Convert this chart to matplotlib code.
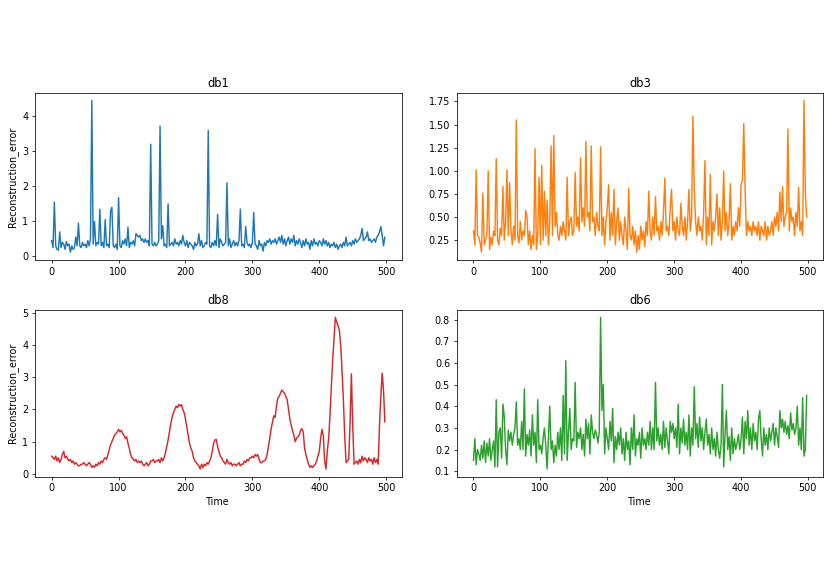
import matplotlib
matplotlib.use("Agg")
import matplotlib.pyplot as plt
import numpy as np

# reconstruction error per wavelet, sampled every 2 time steps
db1 = [
    0.45, 0.25, 1.55, 0.3, 0.2, 0.18, 0.7, 0.25, 0.4, 0.35,
    0.2, 0.42, 0.3, 0.35, 0.12, 0.3, 0.2, 0.25, 0.55, 0.3,
    0.95, 0.3, 0.25, 0.4, 0.3, 0.35, 0.25, 0.45, 0.3, 0.5,
    4.45, 0.35, 1.0, 0.3, 0.4, 0.35, 1.35, 0.3, 0.4, 0.25,
    1.05, 0.3, 0.35, 0.25, 1.3, 1.4, 0.3, 0.25, 0.35, 0.2,
    1.68, 0.3, 0.25, 0.45, 0.35, 0.5, 0.3, 0.83, 0.25, 0.4,
    0.35, 0.45, 0.3, 0.65, 0.6, 0.55, 0.6, 0.45, 0.5, 0.4,
    0.5, 0.4, 0.45, 0.3, 3.2, 0.35, 0.3, 0.4, 0.3, 0.35,
    0.45, 3.72, 0.5, 0.88, 0.3, 0.35, 0.25, 1.5, 0.3, 0.35,
    0.4, 0.3, 0.5, 0.35, 0.4, 0.3, 0.45, 0.35, 0.6, 0.4,
    0.3, 0.45, 0.25, 0.4, 0.35, 0.3, 0.2, 0.4, 0.3, 0.35,
    0.65, 0.3, 0.45, 0.25, 0.3, 0.4, 0.35, 3.6, 0.3, 0.25,
    0.4, 0.3, 0.45, 0.3, 1.2, 0.25, 0.5, 0.4, 0.3, 0.35,
    0.4, 2.1, 0.3, 0.5, 0.25, 0.35, 0.45, 0.3, 0.4, 0.3,
    0.45, 1.35, 0.3, 0.35, 0.25, 0.85, 0.4, 0.3, 0.35, 0.25,
    0.4, 1.25, 0.35, 0.3, 0.2, 0.45, 0.3, 0.35, 0.15, 0.4,
    0.3, 0.45, 0.4, 0.5, 0.35, 0.45, 0.4, 0.5, 0.35, 0.45,
    0.55, 0.4, 0.6, 0.35, 0.5, 0.3, 0.45, 0.55, 0.35, 0.5,
    0.4, 0.6, 0.3, 0.45, 0.35, 0.5, 0.4, 0.25, 0.45, 0.3,
    0.5, 0.35, 0.4, 0.2, 0.45, 0.3, 0.5, 0.35, 0.4, 0.3,
    0.45, 0.4, 0.3, 0.5, 0.35, 0.45, 0.3, 0.4, 0.25, 0.35,
    0.3, 0.4, 0.25, 0.35, 0.2, 0.3, 0.35, 0.25, 0.4, 0.3,
    0.55, 0.3, 0.35, 0.4, 0.3, 0.45, 0.35, 0.5, 0.4, 0.45,
    0.5, 0.6, 0.8, 0.45, 0.5, 0.55, 0.7, 0.45, 0.5, 0.4,
    0.45, 0.5, 0.4, 0.55, 0.6, 0.7, 0.85, 0.6, 0.3, 0.55,
]

db3 = [
    0.35, 0.2, 1.01, 0.3, 0.28, 0.22, 0.12, 0.76, 0.2, 0.25,
    0.3, 1.0, 0.15, 0.28, 0.2, 0.35, 0.3, 1.13, 0.25, 0.2,
    0.38, 0.3, 0.83, 0.25, 0.45, 1.01, 0.3, 0.87, 0.35, 0.2,
    0.4, 0.25, 1.55, 0.3, 0.22, 0.45, 0.25, 0.35, 0.3, 0.57,
    0.5, 0.2, 0.35, 0.15, 0.3, 0.2, 1.24, 0.15, 0.3, 0.93,
    0.2, 1.06, 0.25, 0.78, 0.3, 0.68, 0.2, 0.45, 1.27, 0.3,
    1.38, 0.4, 0.55, 0.3, 0.25, 0.4, 0.3, 0.45, 0.35, 0.25,
    0.93, 0.3, 0.45, 0.5, 0.3, 0.35, 0.98, 0.4, 0.5, 0.35,
    1.14, 0.45, 0.6, 0.4, 1.32, 0.5, 0.55, 0.35, 1.27, 0.45,
    0.5, 0.3, 0.55, 0.4, 0.35, 1.26, 0.3, 0.5, 0.2, 0.45,
    0.6, 0.85, 0.25, 0.55, 0.3, 0.8, 0.2, 0.45, 0.6, 0.25,
    0.45, 0.3, 0.2, 0.5, 0.35, 0.15, 0.81, 0.3, 0.25, 0.4,
    0.2, 0.35, 0.12, 0.3, 0.15, 0.4, 0.25, 0.35, 0.18, 0.45,
    0.3, 0.78, 0.35, 0.25, 0.5, 0.3, 0.72, 0.35, 0.4, 0.25,
    0.45, 0.3, 0.55, 0.92, 0.35, 0.4, 0.3, 0.6, 0.8, 0.35,
    0.45, 0.25, 0.5, 0.35, 0.3, 0.65, 0.4, 0.3, 0.5, 0.25,
    0.45, 0.8, 0.35, 0.5, 1.59, 0.8, 0.45, 0.3, 0.5, 0.35,
    0.4, 0.25, 0.55, 1.11, 0.2, 0.5, 0.3, 0.96, 0.2, 0.45,
    0.35, 0.5, 0.75, 0.3, 0.6, 0.25, 0.45, 1.0, 0.35, 0.55,
    0.3, 0.45, 0.86, 0.25, 0.4, 0.3, 0.45, 0.35, 0.6, 0.4,
    0.85, 0.9, 1.51, 0.8, 0.3, 0.45, 0.35, 0.4, 0.3, 0.45,
    0.35, 0.4, 0.3, 0.45, 0.25, 0.4, 0.35, 0.3, 0.45, 0.25,
    0.4, 0.3, 0.35, 0.45, 0.3, 0.5, 0.4, 0.55, 0.35, 0.77,
    0.45, 0.83, 0.4, 0.5, 0.55, 1.45, 0.35, 0.6, 0.45, 0.5,
    0.3, 0.55, 0.4, 0.82, 0.35, 0.45, 0.3, 1.76, 0.77, 0.5,
]

db8 = [
    0.55, 0.5, 0.45, 0.55, 0.4, 0.5, 0.35, 0.45, 0.6, 0.7,
    0.5, 0.55, 0.45, 0.4, 0.45, 0.35, 0.4, 0.3, 0.35, 0.3,
    0.25, 0.25, 0.3, 0.3, 0.35, 0.3, 0.25, 0.3, 0.35, 0.3,
    0.2, 0.25, 0.2, 0.3, 0.25, 0.35, 0.3, 0.4, 0.35, 0.45,
    0.5, 0.45, 0.6, 0.75, 0.9, 1.0, 1.1, 1.2, 1.25, 1.3,
    1.38, 1.3, 1.35, 1.25, 1.2, 1.1, 1.15, 0.95, 0.8, 0.6,
    0.5, 0.45, 0.4, 0.45, 0.35, 0.4, 0.35, 0.4, 0.3, 0.25,
    0.3, 0.35, 0.25, 0.3, 0.4, 0.4, 0.45, 0.35, 0.4, 0.4,
    0.45, 0.35, 0.5, 0.4, 0.5, 0.65, 0.85, 1.05, 1.3, 1.55,
    1.75, 1.9, 2.0, 2.1, 2.05, 2.15, 2.1, 2.15, 2.0, 1.9,
    1.7, 1.45, 1.2, 0.95, 0.8, 0.7, 0.5, 0.4, 0.35, 0.3,
    0.25, 0.15, 0.3, 0.2, 0.3, 0.25, 0.35, 0.3, 0.4, 0.5,
    0.7, 0.95, 1.05, 1.07, 0.85, 0.7, 0.55, 0.5, 0.4, 0.35,
    0.3, 0.45, 0.35, 0.3, 0.35, 0.25, 0.3, 0.3, 0.25, 0.3,
    0.35, 0.25, 0.3, 0.3, 0.4, 0.35, 0.45, 0.4, 0.5, 0.5,
    0.55, 0.5, 0.6, 0.55, 0.6, 0.45, 0.35, 0.35, 0.4, 0.4,
    0.45, 0.6, 0.85, 1.1, 1.4, 1.6, 1.8, 1.75, 2.1, 2.35,
    2.4, 2.5, 2.6, 2.55, 2.5, 2.4, 2.3, 2.0, 1.7, 1.5,
    1.35, 1.2, 1.0, 1.1, 1.15, 1.2, 1.35, 1.4, 1.3, 0.8,
    0.6, 0.45, 0.3, 0.2, 0.25, 0.2, 0.25, 0.3, 0.4, 0.55,
    0.7, 1.1, 1.38, 1.2, 0.4, 0.15, 0.7, 1.1, 1.8, 2.7,
    3.5, 4.2, 4.85, 4.7, 4.6, 4.45, 4.0, 3.2, 2.3, 1.2,
    0.35, 0.4, 0.45, 1.6, 3.1, 1.5, 0.3, 0.35, 0.4, 0.3,
    0.45, 0.35, 0.55, 0.4, 0.5, 0.45, 0.35, 0.5, 0.4, 0.45,
    0.3, 0.5, 0.35, 0.45, 0.3, 1.5, 2.4, 3.12, 2.6, 1.61,
]

db6 = [
    0.15, 0.25, 0.13, 0.2, 0.18, 0.15, 0.22, 0.16, 0.24, 0.14,
    0.23, 0.17, 0.25, 0.15, 0.2, 0.24, 0.12, 0.43, 0.12, 0.28,
    0.3, 0.16, 0.41, 0.35, 0.2, 0.13, 0.29, 0.24, 0.28, 0.22,
    0.27, 0.3, 0.42, 0.22, 0.25, 0.2, 0.33, 0.2, 0.48, 0.17,
    0.27, 0.22, 0.29, 0.17, 0.36, 0.22, 0.28, 0.14, 0.43, 0.2,
    0.22, 0.18, 0.25, 0.3, 0.22, 0.11, 0.26, 0.4, 0.2, 0.24,
    0.14, 0.22, 0.17, 0.28, 0.2, 0.3, 0.15, 0.45, 0.18, 0.61,
    0.15, 0.28, 0.39, 0.2, 0.25, 0.24, 0.51, 0.21, 0.28, 0.25,
    0.3, 0.2, 0.27, 0.17, 0.34, 0.25, 0.32, 0.18, 0.36, 0.28,
    0.25, 0.29, 0.27, 0.23, 0.28, 0.81, 0.38, 0.5, 0.18, 0.3,
    0.25, 0.2, 0.33, 0.24, 0.39, 0.14, 0.26, 0.2, 0.28, 0.22,
    0.3, 0.18, 0.25, 0.15, 0.28, 0.2, 0.24, 0.13, 0.3, 0.2,
    0.36, 0.17, 0.25, 0.22, 0.28, 0.16, 0.3, 0.22, 0.25, 0.2,
    0.28, 0.22, 0.33, 0.2, 0.3, 0.2, 0.51, 0.24, 0.3, 0.22,
    0.27, 0.2, 0.33, 0.21, 0.3, 0.24, 0.18, 0.33, 0.28, 0.32,
    0.25, 0.3, 0.21, 0.41, 0.18, 0.3, 0.23, 0.34, 0.22, 0.28,
    0.2, 0.36, 0.17, 0.3, 0.22, 0.49, 0.25, 0.32, 0.21, 0.35,
    0.24, 0.3, 0.2, 0.28, 0.34, 0.22, 0.27, 0.18, 0.3, 0.2,
    0.25, 0.17, 0.28, 0.2, 0.16, 0.22, 0.5, 0.12, 0.27, 0.38,
    0.2, 0.26, 0.15, 0.3, 0.18, 0.25, 0.2, 0.23, 0.27, 0.2,
    0.25, 0.35, 0.18, 0.33, 0.25, 0.38, 0.22, 0.3, 0.2, 0.32,
    0.24, 0.28, 0.2, 0.34, 0.38, 0.25, 0.17, 0.3, 0.22, 0.27,
    0.2, 0.3, 0.24, 0.28, 0.32, 0.22, 0.3, 0.26, 0.21, 0.38,
    0.3, 0.34, 0.28, 0.33, 0.27, 0.31, 0.25, 0.37, 0.29, 0.32,
    0.27, 0.3, 0.4, 0.22, 0.3, 0.2, 0.44, 0.17, 0.2, 0.45,
]

panels = [("db1", db1, "tab:blue"), ("db3", db3, "tab:orange"),
          ("db8", db8, "tab:red"), ("db6", db6, "tab:green")]

fig, axes = plt.subplots(2, 2, figsize=(12, 8.487), dpi=69.17)
plt.subplots_adjust(left=0.0422, right=0.9919, bottom=0.188, top=0.8416,
                    wspace=0.151, hspace=0.30)

for ax, (name, values, color) in zip(axes.flat, panels):
    t = np.arange(len(values)) * 2
    ax.plot(t, values, color=color)
    ax.set_title(name)
    ax.set_xticks([0, 100, 200, 300, 400, 500])

for ax in axes[:, 0]:
    ax.set_ylabel("Reconstruction_error")
for ax in axes[1, :]:
    ax.set_xlabel("Time")

fig.savefig("out.png", dpi=69.17)
